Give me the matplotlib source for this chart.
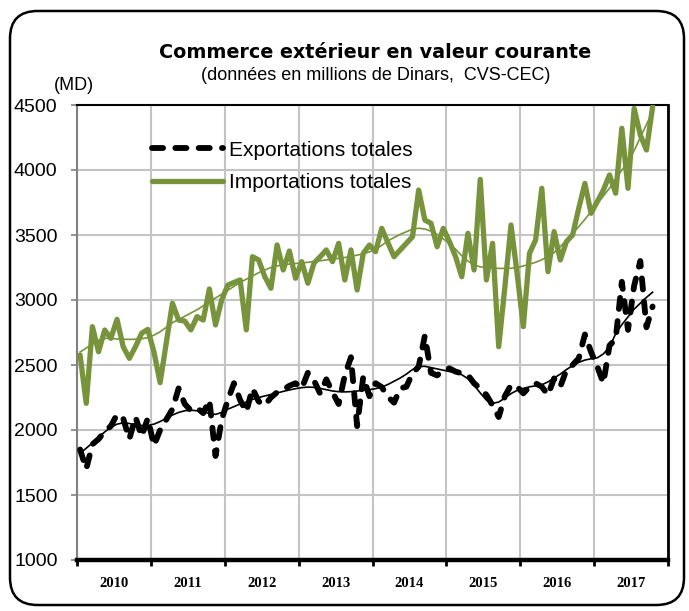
import matplotlib
matplotlib.use("Agg")
import matplotlib.pyplot as plt
import numpy as np
from matplotlib.patches import FancyBboxPatch

# monthly data, Jan 2010 .. Oct 2017 (MD)
years = ["2010", "2011", "2012", "2013", "2014", "2015", "2016", "2017"]

exports = [
    1850, 1700, 1890, 1930, 1990, 2030, 2120, 2090, 1930, 2100, 1950, 2090,
    1880, 2000, 2080, 2160, 2320, 2200, 2150, 2170, 2130, 2230, 1800, 2080,
    2230, 2360, 2230, 2140, 2320, 2220, 2190, 2250, 2290, 2310, 2340, 2360,
    2320, 2440, 2380, 2280, 2390, 2290, 2200, 2420, 2560, 2030, 2410, 2260,
    2360, 2330, 2256, 2210, 2320, 2333, 2436, 2487, 2725, 2440, 2420, 2460,
    2474, 2449, 2436, 2423, 2359, 2320, 2270, 2190, 2100, 2260, 2346, 2333,
    2282, 2333, 2359, 2333, 2270, 2397, 2333, 2462, 2500, 2551, 2735, 2600,
    2490, 2360, 2650, 2700, 3140, 2770, 3110, 3300, 2790, 2950,
]
exports_trend = [
    1820, 1860, 1900, 1945, 1985, 2020, 2045, 2055, 2050, 2040, 2035, 2035,
    2045, 2065, 2090, 2115, 2135, 2148, 2152, 2148, 2138, 2128, 2120, 2135,
    2160, 2180, 2200, 2215, 2235, 2250, 2262, 2273, 2285, 2297, 2308, 2318,
    2326, 2330, 2328, 2320, 2310, 2300, 2295, 2293, 2295, 2300, 2305, 2310,
    2318, 2330, 2350, 2375, 2400, 2430, 2465, 2488, 2490, 2480, 2470, 2460,
    2450, 2440, 2425, 2395, 2345, 2285, 2230, 2205, 2215, 2245, 2280, 2305,
    2320, 2332, 2340, 2348, 2370, 2400, 2430, 2465, 2495, 2520, 2538, 2548,
    2555, 2585, 2640, 2740, 2810, 2870, 2930, 2975, 3020, 3060,
]
imports = [
    2577, 2205, 2795, 2602, 2769, 2705, 2851, 2641, 2551, 2641, 2744, 2774,
    2600, 2364, 2670, 2975, 2846, 2838, 2770, 2872, 2846, 3085, 2808, 3000,
    3115, 3135, 3154, 2770, 3333, 3308, 3180, 3090, 3423, 3231, 3377, 3167,
    3295, 3129, 3285, 3333, 3385, 3295, 3436, 3154, 3385, 3077, 3359, 3423,
    3372, 3551, 3441, 3333, 3385, 3436, 3487, 3846, 3615, 3590, 3410, 3551,
    3449, 3333, 3179, 3513, 3231, 3928, 3154, 3436, 2641, 3100, 3577, 3200,
    2795, 3359, 3462, 3859, 3218, 3526, 3308, 3449, 3500, 3705, 3897, 3667,
    3756, 3846, 3962, 3821, 4321, 3859, 4474, 4269, 4154, 4487,
]
imports_trend = [
    2600, 2630, 2660, 2690, 2705, 2705, 2700, 2698, 2697, 2698, 2702, 2710,
    2730, 2755, 2790, 2825, 2850, 2875, 2900, 2925, 2955, 2985, 3015, 3045,
    3075, 3105, 3135, 3160, 3185, 3210, 3230, 3250, 3262, 3270, 3276, 3281,
    3285, 3290, 3296, 3302, 3308, 3314, 3320, 3327, 3335, 3345, 3356, 3370,
    3390, 3420, 3455, 3480, 3505, 3525, 3545, 3552, 3546, 3530, 3505, 3470,
    3435, 3390, 3340, 3300, 3270, 3255, 3248, 3245, 3243, 3243, 3244, 3250,
    3262, 3275, 3290, 3310, 3333, 3365, 3410, 3460, 3510, 3565, 3620, 3680,
    3740, 3800, 3860, 3930, 4000, 4060, 4150, 4250, 4350, 4450,
]

GREEN = "#77933C"
W, H = 689, 611

fig = plt.figure(figsize=(W / 100, H / 100), dpi=100)
ax = fig.add_axes([77 / W, 1 - 560 / H, (668 - 77) / W, (560 - 105) / H])

x = np.arange(len(imports)) + 0.5

ax.plot(x, imports, color=GREEN, lw=3.8, solid_joinstyle="round",
        solid_capstyle="round", label="Importations totales", zorder=3)
ax.plot(x, imports_trend, color=GREEN, lw=1.2, zorder=4)
ax.plot(x, exports, color="black", lw=4.2, linestyle=(0, (1.9, 2.1)),
        dash_capstyle="round", label="Exportations totales", zorder=3)
ax.plot(x, exports_trend, color="black", lw=1.2, zorder=4)

ax.set_xlim(0, 96)
ax.set_ylim(1000, 4500)
ax.set_yticks(np.arange(1000, 4501, 500))
ax.set_xticks(np.arange(0, 97, 12))
ax.set_xticks(np.arange(6, 96, 12), minor=True)
ax.set_xticklabels([])
ax.set_xticklabels(years, minor=True, fontfamily="Liberation Serif",
                   fontweight="bold", fontsize=10.5)
ax.tick_params(axis="x", which="minor", length=0, pad=12)
ax.tick_params(axis="x", which="major", length=4, width=2, color="black",
               direction="out")
ax.tick_params(axis="y", length=4, width=1.2, color="#808080", pad=10)
for lbl in ax.get_yticklabels():
    lbl.set_fontfamily("Liberation Sans")
    lbl.set_fontsize(14)

ax.grid(True, which="major", color="#c4c4c4", lw=1.5, zorder=0)
ax.set_axisbelow(True)
ax.spines["bottom"].set_linewidth(3.2)
ax.spines["left"].set_color("#808080")
ax.spines["left"].set_linewidth(1.5)
ax.spines["right"].set_linewidth(2)
ax.spines["top"].set_linewidth(1.5)

handles, labels = ax.get_legend_handles_labels()
leg = ax.legend(handles[::-1], labels[::-1], loc="upper left",
                bbox_to_anchor=(0.113, 0.94), borderaxespad=0,
                frameon=False, handlelength=3.4, handletextpad=0.3,
                labelspacing=0.65,
                prop={"family": "Liberation Sans", "size": 15})

fig.text(375 / W, 1 - 52 / H, "Commerce extérieur en valeur courante",
         ha="center", va="center", fontsize=13.8, fontweight="bold",
         fontfamily="DejaVu Sans")
fig.text(376 / W, 1 - 76 / H, "(données en millions de Dinars,  CVS-CEC)",
         ha="center", va="center", fontsize=13, fontfamily="Liberation Sans")
fig.text(74 / W, 1 - 85 / H, "(MD)", ha="center", va="center",
         fontsize=13, fontfamily="Liberation Sans")

frame = FancyBboxPatch((10 / W, 6 / H), 674 / W, 594 / H,
                       boxstyle="round,pad=0,rounding_size=0.04",
                       transform=fig.transFigure, fill=False, lw=1.8,
                       edgecolor="black", mutation_aspect=W / H)
fig.patches.append(frame)

fig.savefig("out.png", dpi=100)
